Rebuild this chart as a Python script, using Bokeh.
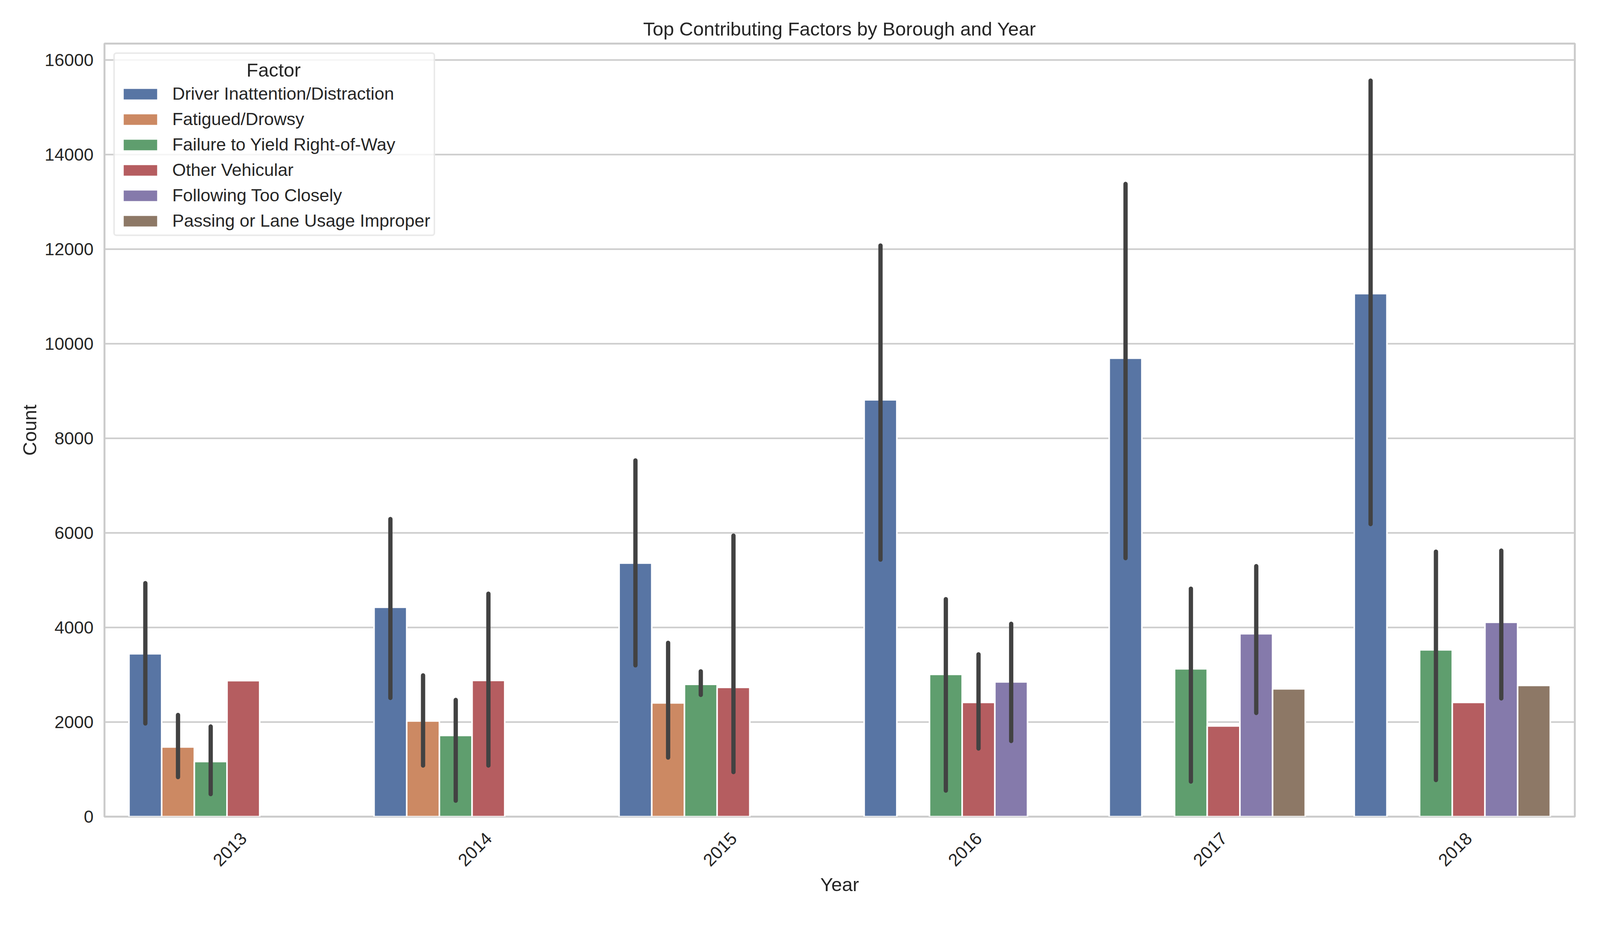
import math

from bokeh.embed import file_html
from bokeh.models import ColumnDataSource, FixedTicker, Legend, LegendItem, Range1d
from bokeh.plotting import figure
from bokeh.resources import INLINE

years = ["2013", "2014", "2015", "2016", "2017", "2018"]
factors = [
    "Driver Inattention/Distraction",
    "Fatigued/Drowsy",
    "Failure to Yield Right-of-Way",
    "Other Vehicular",
    "Following Too Closely",
    "Passing or Lane Usage Improper",
]
nan = float("nan")

# bar heights (mean count) and error bar ends, one list per factor
driver = [3444, 4429, 5362, 8816, 9695, 11062]
driver_lo = [1971, 2511, 3200, 5436, 5468, 6188]
driver_hi = [4938, 6294, 7534, 12079, 13382, 15566]

fatigued = [1473, 2024, 2405, nan, nan, nan]
fatigued_lo = [837, 1081, 1250, nan, nan, nan]
fatigued_hi = [2151, 2988, 3677, nan, nan, nan]

failure = [1166, 1717, 2797, 3009, 3126, 3528]
failure_lo = [477, 339, 2575, 551, 742, 774]
failure_hi = [1907, 2469, 3073, 4599, 4821, 5605]

other = [2876, 2880, 2734, 2416, 1918, 2416]
other_lo = [nan, 1081, 943, 1441, nan, nan]
other_hi = [nan, 4715, 5944, 3433, nan, nan]

following = [nan, nan, nan, 2850, 3868, 4111]
following_lo = [nan, nan, nan, 1600, 2193, 2501]
following_hi = [nan, nan, nan, 4079, 5298, 5626]

passing = [nan, nan, nan, nan, 2702, 2776]
passing_lo = [nan] * 6
passing_hi = [nan] * 6

series = [
    (driver, driver_lo, driver_hi),
    (fatigued, fatigued_lo, fatigued_hi),
    (failure, failure_lo, failure_hi),
    (other, other_lo, other_hi),
    (following, following_lo, following_hi),
    (passing, passing_lo, passing_hi),
]
colors = ["#5875a4", "#cc8963", "#5f9e6e", "#b55d60", "#857aab", "#8d7866"]

FONT = "Liberation Sans"
TEXT = "#262626"
GRID = "#cccccc"

p = figure(
    x_range=Range1d(-0.5, len(years) - 0.5),
    y_range=Range1d(0, 16350),
    width=4080,
    height=2324,
    title="Top Contributing Factors by Borough and Year",
    x_axis_label="Year",
    y_axis_label="Count",
    output_backend="svg",
    toolbar_location=None,
    min_border_left=267,
    min_border_right=49,
    min_border_top=111,
    min_border_bottom=235,
)

n = len(factors)
bar_w = 0.8 / n
items = []
for i, (name, (vals, lo, hi)) in enumerate(zip(factors, series)):
    offset = -0.4 + bar_w * (i + 0.5)
    rows = [k for k in range(len(years)) if not math.isnan(vals[k])]
    src = ColumnDataSource(dict(
        x=[k + offset for k in rows],
        value=[vals[k] for k in rows],
    ))
    r = p.vbar(
        x="x",
        top="value",
        width=bar_w,
        source=src,
        fill_color=colors[i],
        line_color="white",
        line_width=4,
    )
    items.append(LegendItem(label=name, renderers=[r]))

    err_rows = [k for k in rows if not math.isnan(lo[k])]
    if err_rows:
        esrc = ColumnDataSource(dict(
            x=[k + offset for k in err_rows],
            lo=[lo[k] for k in err_rows],
            hi=[hi[k] for k in err_rows],
        ))
        p.segment(
            x0="x", y0="lo", x1="x", y1="hi",
            source=esrc,
            line_color="#424242",
            line_width=11,
            line_cap="round",
        )

# title
p.title.align = "center"
p.title.text_font = FONT
p.title.text_font_size = "49px"
p.title.text_font_style = "normal"
p.title.text_color = TEXT
p.title.standoff = 22

# frame and grid
p.outline_line_color = GRID
p.outline_line_width = 5
p.xgrid.grid_line_color = None
p.ygrid.grid_line_color = GRID
p.ygrid.grid_line_width = 4
p.background_fill_color = "white"

for ax in (p.xaxis[0], p.yaxis[0]):
    ax.axis_line_color = None
    ax.major_tick_line_color = None
    ax.minor_tick_line_color = None
    ax.major_tick_in = 0
    ax.major_tick_out = 0
    ax.major_label_text_font = FONT
    ax.major_label_text_font_size = "45px"
    ax.major_label_text_color = TEXT
    ax.axis_label_text_font = FONT
    ax.axis_label_text_font_size = "49px"
    ax.axis_label_text_font_style = "normal"
    ax.axis_label_text_color = TEXT

p.yaxis[0].ticker = FixedTicker(ticks=list(range(0, 16001, 2000)))
p.yaxis[0].major_label_standoff = 28
p.yaxis[0].axis_label_standoff = 8

# rotated year labels: bokeh anchors the text end at the tick, so the tick
# sits a little right of the group centre to centre the label under it
label_shift = 0.068
p.xaxis[0].ticker = FixedTicker(ticks=[k + label_shift for k in range(len(years))])
p.xaxis[0].major_label_overrides = {k + label_shift: y for k, y in enumerate(years)}
p.xaxis[0].major_label_orientation = math.pi / 4
p.xaxis[0].major_label_standoff = 48
p.xaxis[0].axis_label_standoff = 3

# main legend keeps an empty title row ...
legend = Legend(
    items=items,
    title=" ",
    location="top_left",
    margin=23,
    padding=9,
    spacing=13,
    glyph_width=112,
    glyph_height=39,
    label_standoff=26,
    label_text_font=FONT,
    label_text_font_size="45px",
    label_text_color=TEXT,
    title_text_font=FONT,
    title_text_font_size="49px",
    title_standoff=11,
    border_line_color="#d6d6d6",
    border_line_width=4,
    border_radius=8,
    background_fill_alpha=0.8,
)
p.add_layout(legend)

# ... and a bare second legend puts the centred "Factor" heading in it
blank = p.scatter(x=[], y=[], fill_alpha=0, line_alpha=0)
heading = Legend(
    items=[LegendItem(label="Factor", renderers=[blank])],
    location=(363, 1882),
    margin=0,
    padding=0,
    spacing=0,
    glyph_width=1,
    glyph_height=1,
    label_standoff=0,
    label_text_font=FONT,
    label_text_font_size="49px",
    label_text_color=TEXT,
    border_line_color=None,
    background_fill_alpha=0,
)
p.add_layout(heading)

open("out.html", "w").write(file_html(p, INLINE))
